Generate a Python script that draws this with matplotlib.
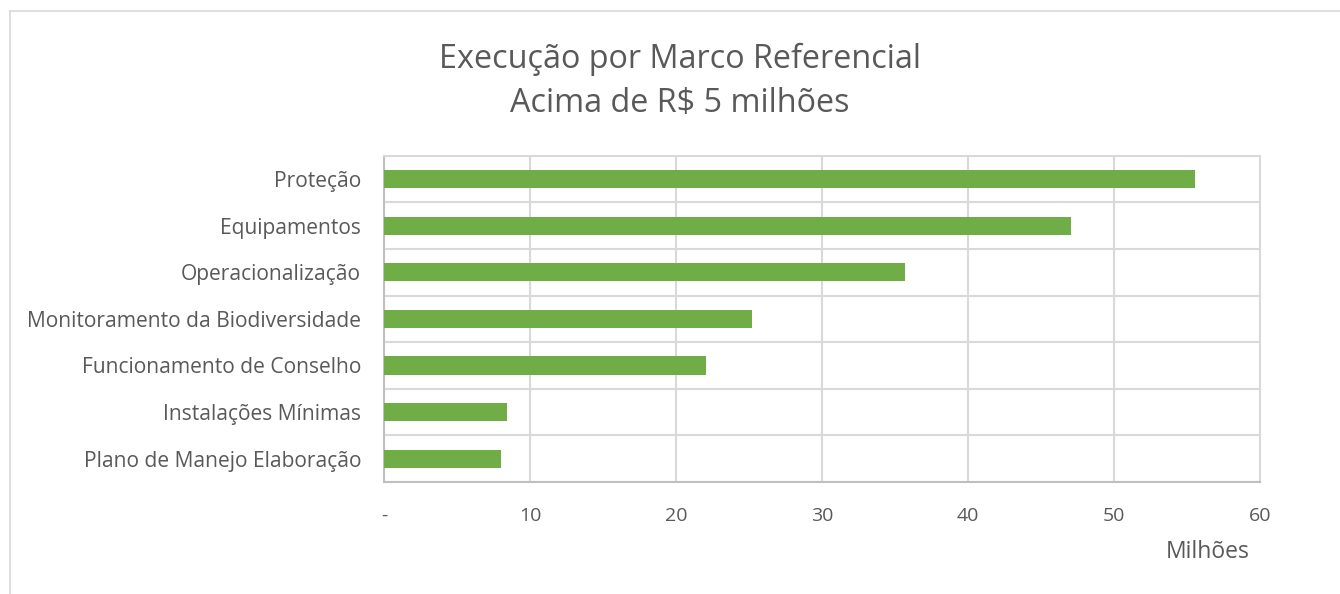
import matplotlib.pyplot as plt
from matplotlib.lines import Line2D
import numpy as np

# data (R$ millions)
categorias = ['Proteção', 'Equipamentos', 'Operacionalização',
              'Monitoramento da Biodiversidade', 'Funcionamento de Conselho',
              'Instalações Mínimas', 'Plano de Manejo Elaboração']
valores = [55.55, 47.07, 35.7, 25.18, 22.03, 8.4, 7.99]
xticks = [0, 10, 20, 30, 40, 50, 60]
xlabels = ['-', '10', '20', '30', '40', '50', '60']

plt.rcParams['font.family'] = ['Open Sans', 'DejaVu Sans']
txt = '#595959'
grid = '#d9d9d9'

W, H = 1340, 594
fig = plt.figure(figsize=(W / 100, H / 100), dpi=100)
ax = fig.add_axes([384 / W, 1 - 482 / H, (1260 - 384) / W, (482 - 155.7) / H])

y = np.arange(len(categorias))
ax.barh(y, valores, height=0.39, color='#70AD47', zorder=3)
ax.set_ylim(len(categorias) - 0.5, -0.5)
ax.set_xlim(0, 60)

ax.set_yticks(y)
ax.set_yticklabels(categorias, fontsize=15.1, color=txt)
ax.set_yticks(np.arange(len(categorias) + 1) - 0.5, minor=True)
ax.set_xticks(xticks)
ax.set_xticklabels(xlabels, fontsize=14, color=txt)
ax.tick_params(axis='y', which='both', length=0, pad=16.5)
ax.tick_params(axis='x', length=0, pad=18)

ax.grid(True, axis='x', which='major', color=grid, lw=1.5, zorder=0)
ax.grid(True, axis='y', which='minor', color=grid, lw=1.5, zorder=0)
for s in ax.spines.values():
    s.set_color(grid)
    s.set_linewidth(1.5)
ax.spines['left'].set_color('#bfbfbf')
ax.spines['bottom'].set_color('#bfbfbf')

fig.text(680 / W, 1 - 59 / H, 'Execução por Marco Referencial', ha='center', va='center',
         fontsize=23.3, color=txt)
fig.text(680 / W, 1 - 104 / H, 'Acima de R$ 5 milhões', ha='center', va='center',
         fontsize=23.3, color=txt)
fig.text(1208 / W, 1 - 552 / H, 'Milhões', ha='center', va='center', fontsize=16.5, color=txt)

# chart frame
fig.add_artist(Line2D([10 / W, 1], [1 - 11 / H, 1 - 11 / H], color=grid, lw=1.2))
fig.add_artist(Line2D([10 / W, 10 / W], [0, 1 - 11 / H], color=grid, lw=1.2))

fig.savefig('out.png', dpi=100, facecolor='white')
